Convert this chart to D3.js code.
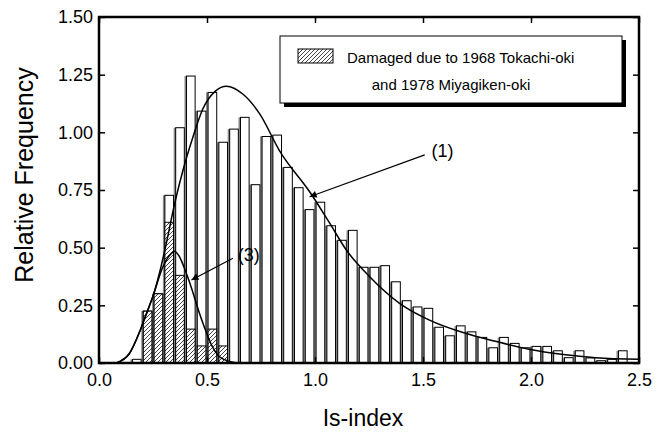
<!DOCTYPE html>
<html>
<head>
<meta charset="utf-8">
<script src="https://cdn.jsdelivr.net/npm/d3@7"></script>
<style>
  html, body { margin: 0; padding: 0; background: #fff; }
  svg text { font-family: "Liberation Sans", Arial, sans-serif; fill: #000; }
</style>
</head>
<body>
<svg id="chart" width="665" height="434"></svg>
<script>
// Histogram of Is-index (bin start, width 0.05)
const binStarts = [0.15, 0.20, 0.25, 0.30, 0.35, 0.40, 0.45, 0.50, 0.55, 0.60,
  0.65, 0.70, 0.75, 0.80, 0.85, 0.90, 0.95, 1.00, 1.05, 1.10,
  1.15, 1.20, 1.25, 1.30, 1.35, 1.40, 1.45, 1.50, 1.55, 1.60,
  1.65, 1.70, 1.75, 1.80, 1.85, 1.90, 1.95, 2.00, 2.05, 2.10,
  2.15, 2.20, 2.25, 2.30, 2.35, 2.40];
const allFreq = [0.016, 0.225, 0.30, 0.727, 1.02, 1.244, 1.092, 1.173, 0.957, 1.014,
  1.065, 0.773, 0.982, 0.988, 0.848, 0.760, 0.665, 0.697, 0.595, 0.532,
  0.575, 0.415, 0.415, 0.422, 0.352, 0.270, 0.243, 0.237, 0.155, 0.118,
  0.161, 0.135, 0.111, 0.066, 0.111, 0.085, 0.066, 0.072, 0.072, 0.053,
  0.023, 0.053, 0.022, 0.010, 0.016, 0.053];

// Damaged buildings (hatched)
const damagedStarts = [0.20, 0.25, 0.30, 0.35, 0.40, 0.45, 0.50, 0.55];
const damagedFreq = [0.225, 0.30, 0.61, 0.38, 0.147, 0.074, 0.147, 0.074];

// Fitted curve (1)
const curve1X = [0.08, 0.14, 0.19, 0.22, 0.25, 0.28, 0.305, 0.35, 0.39, 0.435, 0.48, 0.54,
  0.59, 0.667, 0.744, 0.836, 0.98, 1.068, 1.145, 1.253, 1.39, 1.53, 1.685, 1.84, 1.99, 2.15, 2.3, 2.5];
const curve1Y = [0, 0.04, 0.14, 0.215, 0.29, 0.39, 0.49, 0.69, 0.84, 0.98, 1.10, 1.18,
  1.20, 1.165, 1.08, 0.92, 0.736, 0.606, 0.49, 0.374, 0.26, 0.186, 0.132, 0.093, 0.06, 0.037, 0.023, 0.016];

// Fitted curve (3)
const curve3X = [0.08, 0.14, 0.19, 0.22, 0.25, 0.296, 0.335, 0.35, 0.37, 0.40, 0.43, 0.46,
  0.49, 0.52, 0.55, 0.60, 0.65];
const curve3Y = [0, 0.04, 0.14, 0.215, 0.29, 0.417, 0.475, 0.485, 0.465, 0.40, 0.32, 0.23,
  0.15, 0.08, 0.035, 0.008, 0];

const xTicks = [0, 0.5, 1.0, 1.5, 2.0, 2.5];
const yTicks = [0, 0.25, 0.5, 0.75, 1.0, 1.25, 1.5];
const binWidth = 0.05;

const legendLines = ['Damaged due to 1968 Tokachi-oki', 'and 1978 Miyagiken-oki'];

// Annotations in data units: label position, arrow start, arrow tip
const notes = [
  { text: '(1)', lx: 1.59, ly: 0.92, x0: 1.508, y0: 0.902, x1: 0.975, y1: 0.721 },
  { text: '(3)', lx: 0.693, ly: 0.468, x0: 0.62, y0: 0.454, x1: 0.428, y1: 0.36 }
];

const svg = d3.select('#chart');
const margin = { top: 17, right: 26, bottom: 71, left: 99 };
const width = 665, height = 434;

const x = d3.scaleLinear().domain([0, 2.5]).range([margin.left, width - margin.right]);
const y = d3.scaleLinear().domain([0, 1.5]).range([height - margin.bottom, margin.top]);

const defs = svg.append('defs');
const hatch = defs.append('pattern')
  .attr('id', 'hatch')
  .attr('patternUnits', 'userSpaceOnUse')
  .attr('width', 4).attr('height', 4);
hatch.append('rect').attr('width', 4).attr('height', 4).attr('fill', '#fff');
hatch.append('path')
  .attr('d', 'M-1,1 l2,-2 M0,4 l4,-4 M3,5 l2,-2')
  .attr('stroke', '#444').attr('stroke-width', 1);

defs.append('marker')
  .attr('id', 'arrow')
  .attr('viewBox', '0 0 10 10')
  .attr('refX', 10).attr('refY', 5)
  .attr('markerWidth', 9).attr('markerHeight', 7)
  .attr('markerUnits', 'userSpaceOnUse')
  .attr('orient', 'auto')
  .append('path').attr('d', 'M0,0 L10,5 L0,10 z').attr('fill', '#000');

const barX = d => x(d + binWidth * 0.1);
const barW = x(binWidth * 0.8) - x(0);

// all buildings
const bars = binStarts.map((s, i) => ({ s, v: allFreq[i] }));
svg.append('g').selectAll('rect')
  .data(bars).enter().append('rect')
  .attr('x', d => barX(d.s) - 2)
  .attr('y', d => y(d.v))
  .attr('width', barW)
  .attr('height', d => y(0) - y(d.v))
  .attr('fill', '#888');
svg.append('g').selectAll('rect')
  .data(bars).enter().append('rect')
  .attr('x', d => barX(d.s))
  .attr('y', d => y(d.v))
  .attr('width', barW)
  .attr('height', d => y(0) - y(d.v))
  .attr('fill', '#fff')
  .attr('stroke', '#000')
  .attr('stroke-width', 1);

// damaged
const dmg = damagedStarts.map((s, i) => ({ s, v: damagedFreq[i] }));
svg.append('g').selectAll('rect')
  .data(dmg).enter().append('rect')
  .attr('x', d => barX(d.s))
  .attr('y', d => y(d.v))
  .attr('width', barW)
  .attr('height', d => y(0) - y(d.v))
  .attr('fill', 'url(#hatch)')
  .attr('stroke', '#000')
  .attr('stroke-width', 1);

// curves
const line = d3.line().x(d => x(d[0])).y(d => y(d[1])).curve(d3.curveMonotoneX);
svg.append('path')
  .datum(curve1X.map((v, i) => [v, curve1Y[i]]))
  .attr('d', line)
  .attr('fill', 'none').attr('stroke', '#000').attr('stroke-width', 1.5);
svg.append('path')
  .datum(curve3X.map((v, i) => [v, curve3Y[i]]))
  .attr('d', line)
  .attr('fill', 'none').attr('stroke', '#000').attr('stroke-width', 1.5);

// annotations
notes.forEach(n => {
  svg.append('line')
    .attr('x1', x(n.x0)).attr('y1', y(n.y0))
    .attr('x2', x(n.x1)).attr('y2', y(n.y1))
    .attr('stroke', '#000').attr('stroke-width', 1.2)
    .attr('marker-end', 'url(#arrow)');
  svg.append('text')
    .attr('x', x(n.lx)).attr('y', y(n.ly))
    .attr('text-anchor', 'middle')
    .attr('dominant-baseline', 'central')
    .attr('font-size', 18)
    .text(n.text);
});

// frame and axes
const axisStyle = g => {
  g.select('.domain').remove();
  g.selectAll('.tick line').attr('stroke', '#000').attr('stroke-width', 1.5);
  g.selectAll('.tick text').attr('font-size', 18).attr('font-family', '"Liberation Sans", Arial, sans-serif');
};

svg.append('g')
  .attr('transform', `translate(0,${y(0)})`)
  .call(d3.axisBottom(x).tickValues(xTicks).tickFormat(d3.format('.1f')).tickSizeInner(-6).tickSizeOuter(0).tickPadding(10))
  .call(axisStyle);
svg.append('g')
  .attr('transform', `translate(${x(0)},0)`)
  .call(d3.axisLeft(y).tickValues(yTicks).tickFormat(d3.format('.2f')).tickSizeInner(-6).tickSizeOuter(0).tickPadding(6))
  .call(axisStyle);
svg.append('g')
  .attr('transform', `translate(0,${y(1.5)})`)
  .call(d3.axisTop(x).tickValues(xTicks).tickFormat('').tickSizeInner(-6).tickSizeOuter(0))
  .call(axisStyle);
svg.append('g')
  .attr('transform', `translate(${x(2.5)},0)`)
  .call(d3.axisRight(y).tickValues(yTicks).tickFormat('').tickSizeInner(-6).tickSizeOuter(0))
  .call(axisStyle);

svg.append('rect')
  .attr('x', x(0)).attr('y', y(1.5))
  .attr('width', x(2.5) - x(0)).attr('height', y(0) - y(1.5))
  .attr('fill', 'none').attr('stroke', '#000').attr('stroke-width', 2.5);

// axis titles
svg.append('text')
  .attr('x', (x(0) + x(2.5)) / 2 - 6).attr('y', 426)
  .attr('text-anchor', 'middle')
  .attr('font-size', 23)
  .text('Is-index');
svg.append('text')
  .attr('transform', `translate(33,${(y(0) + y(1.5)) / 2 - 15}) rotate(-90)`)
  .attr('text-anchor', 'middle')
  .attr('font-size', 25)
  .text('Relative Frequency');

// legend
const lg = svg.append('g').attr('transform', 'translate(280,36)');
const lw = 342, lh = 67;
lg.append('rect').attr('x', 4).attr('y', 4).attr('width', lw).attr('height', lh).attr('fill', '#000');
lg.append('rect').attr('width', lw).attr('height', lh)
  .attr('fill', '#fff').attr('stroke', '#000').attr('stroke-width', 1);
lg.append('rect').attr('x', 18).attr('y', 13).attr('width', 35).attr('height', 14)
  .attr('fill', 'url(#hatch)').attr('stroke', '#000').attr('stroke-width', 1);
lg.append('text').attr('x', 67).attr('y', 26.5).attr('font-size', 15).text(legendLines[0]);
lg.append('text').attr('x', lw / 2).attr('y', 54).attr('text-anchor', 'middle')
  .attr('font-size', 15).text(legendLines[1]);
</script>
</body>
</html>
